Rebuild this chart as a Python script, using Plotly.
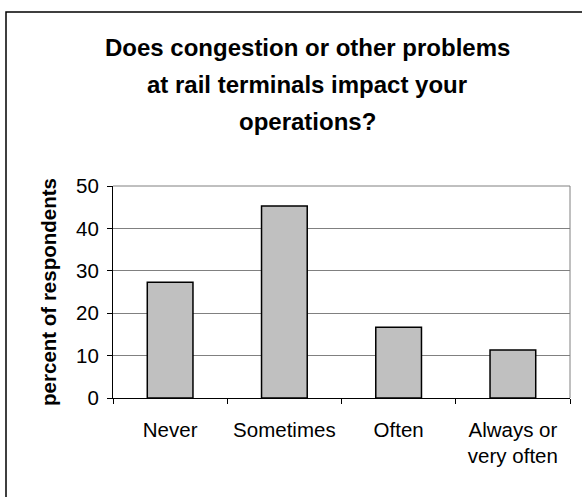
import plotly.graph_objects as go

# Survey answers
categories = ["Never", "Sometimes", "Often", "Always or<br>very often"]
percent = [27.3, 45.3, 16.7, 11.3]
title_lines = [
    "Does congestion or other problems",
    "at rail terminals impact your",
    "operations?",
]

font_family = "Liberation Sans, Arial, sans-serif"

fig = go.Figure()
fig.add_trace(go.Bar(
    x=categories,
    y=percent,
    marker=dict(color="#C0C0C0", line=dict(color="black", width=1.5)),
    width=0.4,
))

# Plot area is 113..570 px wide and 186..398 px tall
fig.update_layout(
    width=582,
    height=497,
    margin=dict(l=113, r=12, t=186, b=99),
    paper_bgcolor="white",
    plot_bgcolor="white",
    showlegend=False,
    font=dict(family=font_family, color="black", size=20),
)

fig.update_xaxes(
    showline=True, linecolor="black", linewidth=1,
    ticks="outside", tickson="boundaries", ticklen=5, tickcolor="black",
    showgrid=False, tickfont=dict(size=20.5), ticklabelstandoff=13,
)
fig.update_yaxes(
    range=[0, 50], dtick=10,
    showline=True, linecolor="black", linewidth=1,
    ticks="outside", ticklen=5, tickcolor="black",
    showgrid=True, gridcolor="#808080", gridwidth=1,
    zeroline=False, tickfont=dict(size=20.5), ticklabelstandoff=4,
    title=dict(text="<b>percent of respondents</b>", font=dict(size=20.5), standoff=13),
)

# gray plot-area border on top / right
fig.add_shape(type="line", xref="paper", yref="paper", x0=0, x1=1, y0=1, y1=1,
              line=dict(color="#808080", width=1))
fig.add_shape(type="line", xref="paper", yref="paper", x0=1, x1=1, y0=0, y1=1,
              line=dict(color="#808080", width=1))

# outer chart frame (cut off at right and bottom like the original)
fig.add_shape(type="rect", xref="paper", yref="paper",
              x0=(6 - 113) / 457, x1=(600 - 113) / 457,
              y0=(398 - 520) / 212, y1=(398 - 12) / 212,
              line=dict(color="black", width=1.5))

# title, one annotation per line to get the wide line spacing
for i, line in enumerate(title_lines):
    fig.add_annotation(
        text="<b>" + line + "</b>",
        xref="paper", yref="paper",
        x=(307 - 113) / 457, y=(398 - (47 + 37 * i)) / 212,
        showarrow=False, xanchor="center", yanchor="middle",
        font=dict(size=24, family=font_family, color="black"),
    )

# page has a default 8px body margin; drop it so the chart sits at 0,0
fig.write_html("out.html", config={"displayModeBar": False},
               post_script="document.body.style.margin='0';")
